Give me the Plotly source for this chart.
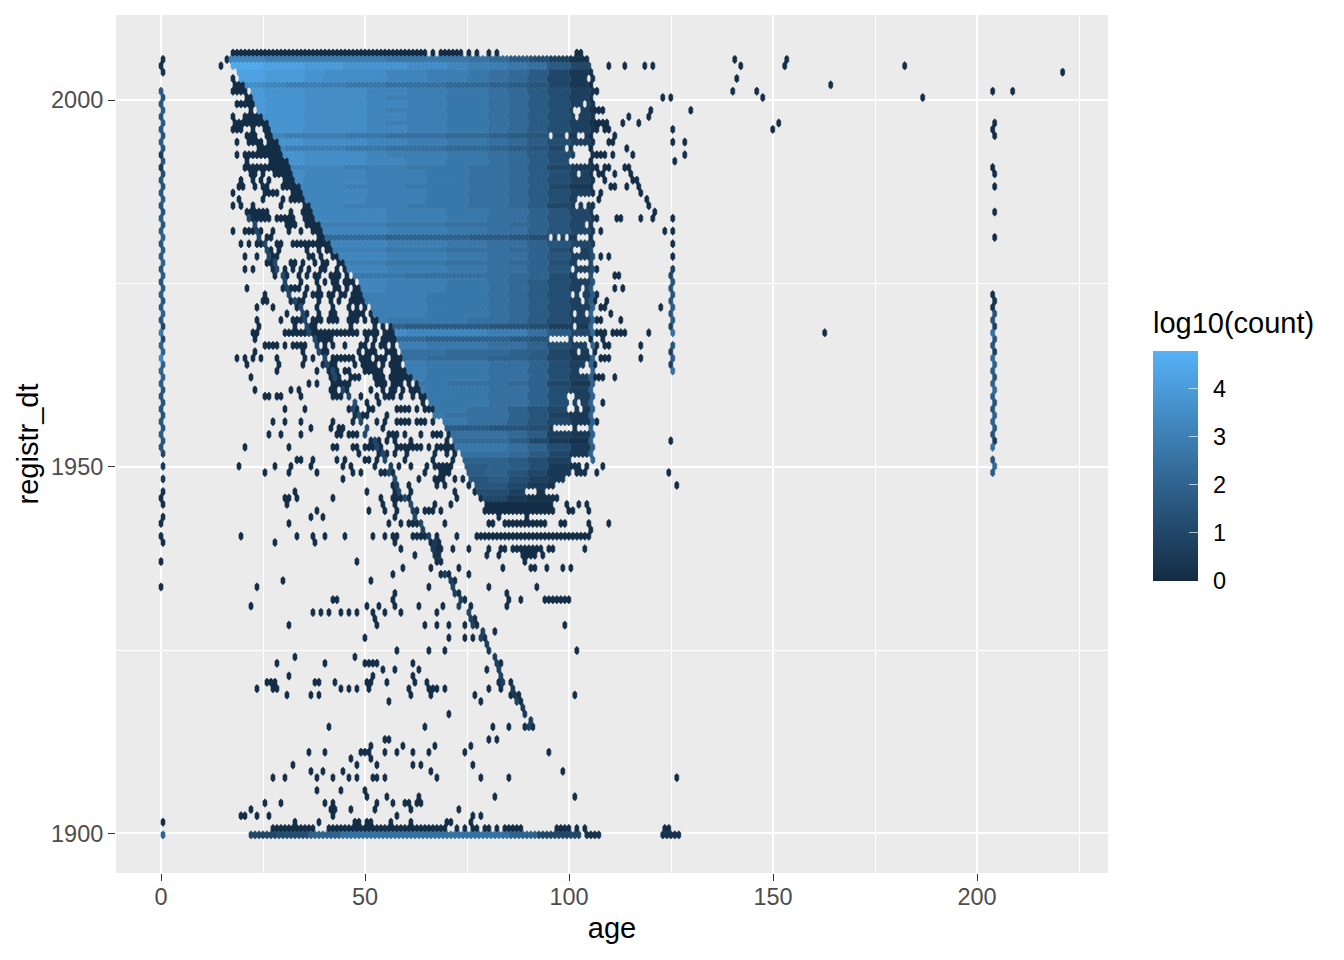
import plotly.graph_objects as go

# hex grid of the binning
age_step = 0.98
year_base = 1899.8
year_step = 0.8667
low_color = (0x13, 0x2B, 0x43)
high_color = (0x56, 0xB1, 0xF7)
level_max = 4.79
legend_ticks = [0, 1, 2, 3, 4]
x_major = [0, 50, 100, 150, 200]
x_minor = [25, 75, 125, 175, 225]
y_major = [1900, 1950, 2000]
y_minor = [1925, 1975]

# dense block: log10(count) per row, 5-year age bands from 15 (char value x 0.25)
band_start = 15
band_width = 5
dense_top_row = 122
dense_levels = [
"ddccccccbbbba975310","iihhggfffeedccba742","hhggfeeeddccba97421","hhggfeeeddccba97421",
"eedcccbbaaa99876420","ggffeeeddccbba97531","ggffeeedcccbba97531","ggffeeeddccbba97531",
"ggffeeedcccbba97531","ggffeeeddccbba97531","ggffeeedcccbba97531","ggffeeeddccbba97531",
"eedcccbbaaa99876420","ggffeeeddccbba97531","eedcccbbaaa99876420","ggffeeedcccbba97531",
"ggffeeeddccbba97531","eeddddcccbbbaa97421","eeeedddcccbbaa97531","eeeedddcccbbaa97531",
"eeddddcccbbbaa97421","eeeedddcccbbaa97531","eeeedddcccbbaa97531","eeddddcccbbbaa97421",
"ddddddddcccbbaa8642","ddddddddcccbbaa8642","ccccccccbbbaaa98642","ddddddddcccbbaa8642",
"aaaaa99988887765321","ddddddddcccbbaa8642","ccccccccbbbaaa98534","ddddddddcccbbaa8635",
"ccccccccbbbaaa98534","ddddddddcccbbaa8635","bbbbbbbbbaaaaa98535","ddddddddcccbba97536",
"ddddddddcccbba97536","ccccccccccbbba97537","ccccccccccbbba97537","ccccccccccbbba97538",
"ccccccccccbbba97538","ccccccccbbbbaa97538","8888888887777665328","eeeeeeeeeddddcca749",
"9999999999888876430","ccccccccccbbbaa8538","aaaaaaaaaaa99987428","aaaaaaaaaa999887428",
"ccccccccccbbbaa8538","ccccccccccbbbaa8538","ccccccccccbbbaa8538","bbbbbbbbbbbaaa98428",
"ccccccccccbbbaa8538","ccccccccccbbbaa8538","ccccccccccbbbaa8538","ccccccccbbbbaa86428",
"bbbbbbbbbbbaaa86328","ccccccccbbbbaa86428","7777777777777665218","aaaaaaaaaaaaaa97328",
"9999999999999974218","bbbbbbbbbbbbbba8528","aaaaaaaaaaaaaa97428","8888888888888875318",
"7777777777777875218","7777777777777864218","6666666666666753217","6666666666666642117",
"5555555555555531116","4444444444444421114",
]
dense_left = [17,18.1,19,19.4,20.8,22.2,23,23.9,24.3,25.5,27,27.5,28.4,29.6,30,30.8,31.6,32,33,33.7,
35,35.5,36,37,38,38.7,39.4,40,41,42,42.6,44,45.5,46.5,47.5,48.8,49.5,50.3,50.8,51.5,52,54,57,57.5,
58,59,59.5,60,60.5,61,62.6,63.5,64.3,65.2,66,67.2,67.6,69.2,70,71.3,72,73,73.7,74,75,75.8,76,77.8,78.2,79.4]
dense_right = [104.5,105,105.5,105.5,105.5,105.5,105.5,105.5,105.5,105.5,105.5,105.5,105.5,105.5,105.5,105.5,
105.5,105.5,105.5,105.5,105.5,105.5,105.5,105.5,105.5,105.5,105.5,105.5,105.5,105.5,105.5,105.5,105.5,105.5,
105.5,105.5,105.5,105.5,105.5,105.5,105.5,105.5,105.5,105.5,105.5,105.5,105.5,105.5,105.5,105.5,105.5,105.5,
105.5,105.5,105.5,105.5,105.5,105.5,105.5,105.5,105.5,105.5,105.5,105.5,104,104,98,96,94,96.6]

# empty bins inside the dense block, by row
holes = {
119:"104.8",115:"103.5",114:"101.5-102.7",113:"102",110:"96 99.5 102-103.5",108:"99.5 101.5-104.7",
107:"101.5-104.7",106:"100.3 101.5-104.7",104:"102.3",100:"102.5-105",99:"102 103.7",96:"104.4",
94:"95.4 97.4 99.4 102.3-104.8",92:"101.5-102.7",90:"102.3-104.8",89:"101",88:"102.3-104",86:"103.4",
85:"101 103",84:"103.5",82:"101.5 104.4",80:"101.5",78:"96-99 101-104",77:"104.4",76:"102.5 105",
74:"104.4",73:"103-104.4",69:"100-101",68:"100.3 102.7",67:"100-101 102.7",64:"97-100 102.4-104.8",
59:"100.7-104.4",58:"103",57:"101",56:"102-104",55:"99-103.5",54:"90-92",
}

# single bins and short runs outside the dense block, by row (ages)
sparse = {
123:"18-65 66.8 69-73.3 75 77 80 82 102 103",
122:"16.5 140.4 153.4",
121:"14.9 110 114 119 121 142 153 181.8",120:"221.3",119:"18 141",118:"18.5-20.6 164.4",
117:"18-20.2 106.8 140 146 203.8 208.8",116:"21.4-22.6 123.3 125.4 147.3 186.3",115:"19-23",
114:"22.2 106-108.4 120.3 130.3",113:"18 21-24.7 115 120",
112:"18-19.8 20.6-24.3 25-26.7 106-109.3 113.5 117.4 151.5 204.3",
111:"18-19.8 23 25.5-26.7 107 109 110 125 149.8 203.8",110:"20.6-23.4 25.5-28 111.5 204.3",
109:"19 21.8-23.9 24.7 26.7-28.4 110 111 125 128",108:"24.3-25.5 27-30 114.5",
107:"18.5 21-25.5 26.7-30.4 106.8-109 111 116 128",106:"21 27-31.2 125.5",
105:"20.6-21.4 23-31.6 107 109 110 114 115 203.8",104:"21.8-23 25 28-32 107-108 111.5 115.4 204.3",
103:"19.4 22.2 24.7 26.7 30.4-33 108.8 116 117",102:"19 20 22.6 24.7 25.5 30-34.5 110.4 111.4 114.5 117.4 204.3",
101:"18 25.5-28 32-35 108 117.9",100:"19.4 25 29.6 32-35 107.4 119.4",99:"18 19.4 23 29 34.9-36.5 120",
98:"21.4-25.5 32 34.9-37.8 121.5 204",97:"21.4-26.7 28.8-32.4 34.9-38.6 107 112 113 118 121 125",
96:"30.4-32.4 35.7-39.8",95:"18 21-24.3 27 31 34 37.7-41 107.9 123 125",94:"25.5 27 39-42 204",
93:"20 22 24-25.5 28-29.2 32-42 125",92:"26.7 29.3 35.7 39 40.6 42",91:"21 24 27-28.3 36 37.7 39 42-44.7 107.9 109.8 125",
90:"25.5-28.3 31.6 32.4 34.5 38 39.8-41 44-45.5",89:"21 23 27.5 30.8 32 34 36.5 39-40 43 45-47 106.8 125",
88:"28 29.6 30.8 33.7 35.3 37.8-39 41.4 43-44 46 48-48.8 111.5 112.4 125",87:"30 30.8 34 38.2 40 42-43 45-47.1 125",
86:"20.6 30-33.7 35.7 36 39 42.2-44 46 48-49.6 111.5 113.5 125",85:"25 31.6 35.3 37.3-39 41.4 42.6 44-45 47-50.4 106.8 125",
84:"25 26 31.6-34.9 39 41.8 43.9 47-50.4 106.4 108.8 125",83:"24 27 33.3 34.5 38.6 42.2 46.3 48 50 108-109 122.7 125",
82:"30.4 34.5-35.7 38.6 41.4-43 46.7 48-49 51-52 110.5 125",81:"24 29 32.8-35.7 37.7-39 41-43 46.3-48 50 52-55.3 106.8-108 113 125",
80:"24 32.8 36.5-38.2 46.3 52 54.5 56.1 125",79:"23 24 30 31.2 32.8-36.5 37.3-48.4 50-53 55-57.8 106-109 111-114 120 119.8 125 163",
78:"23.4 37.3-41.4 50.4 52.9 54.5-57 108.4",77:"25-28 30 32-35.3 38.2 40.6 42.6 45 48.8-50 52 54-55.3 57 107 109 110 117.8 125",
76:"22.6 34.9 39.8 40.6 48.4 50-52 55-57.8 106.4 125",75:"19 20.2 23 24.7 28 35.3 37 39.8 42.2-47 49-51 53-55.3 57-60.2 108-110 117.8 125",
74:"20.8 29.2 34.5 39.8-43 47.5 49.6-52 54 56-58.6 60-63 106.4 125",73:"28.8 38 41-43 44.7-46.3 49.6-53.7 57-62.6 125",
72:"22.4 41.4-43.9 46.7-48.8 52-54.5 56-62 106-108.4 111.5",71:"36 38 42-46 53-54.5 57-59 61 63-65",
70:"22.6 31.7 33.7 41.5-43 45.5 51 54.5 56-57 59 61-65",69:"25 26 28 29.2 34 41.9-43.9 49 52.9 54.5 56-57 59 61.9 63.5-65",
68:"47.6 50.4 53.3 64.3 108.4",67:"30 35 46-47.6 50.9-52 57.8-61 63 64.7-67.2",66:"47.2-50.4 55.3",
65:"27 30 34 41.9 47.2 49.2 53 55 57.8-61 62.7 64-65 67 106.8",64:"36.6 41.5 43.5 44.3 50.4 54.5",
63:"26 29 34 43.5 44.3 46-48 50.4 55.8-58.2 59.8 63.5 66.4-68.4 70.5",62:"51.7 53 55.3 57.4 61.5 70.5 125.4",
61:"21 31 41.9 43 47.2 48 50-52 53.7 57.8-63.5 66 68-71.3 73",60:"48.4 53.7-55.3 57.4 59.8 67.2 70.5 72",
59:"33.3 34.3 37 43 45 50 51 53.3 54.5 60 67 72",58:"19.4 27.5 31.7 36.5 44.4 46.6 52.5 56.2 58.6 61 64.7 67.6-70.9 108.4",
57:"25 31 38 47 49 54-55.3 57 64.7 68.4-70.9 106.4 124.9",56:"44.5 57.4 63 67.6-69 72.5 74.3",
55:"57 58 61 68 70 75.8 126.5",54:"32.5 50.5 57.4 61 72.5 76.6",
53:"30 31 33 42 54 57-60 61 72.5 78",52:"30.4 54.5 57.4 61.5 67.4 71.5 80-96 99.5 102.5 104.8",
51:"38 51 55 57.4 62.3 64.7-67 68.8 79 80 81.5-96 99.5 101 105",50:"36.5 39.4 57.4 62.3 83 89.5",
49:"31 56 59 61-63 64 70 80 81 84-94 98 99 105 110",48:"64.3 105",
47:"19.4 33 37 40 45 52 55 57 58 62-65 66 68 73 77-105",46:"28.4 37.4 57.4 66-68.4",
45:"59 66.4-68.8 72 75 80 83 84 86-93 95 96 104",44:"62.5 66.8-68.4 79.4 82.7 88.9-91.3 93.3",
43:"48 67.6 68.4 88.9",42:"59.6 66.5 73.5 83.4 90.5-92 94.4 98.5 100.4",41:"57 68.8 70 71 75",
40:"29.4 51.5 71.7",39:"24 66 71.7 80 92",38:"57.4 72.5 73.3 84.4",
37:"42 43 57 73.3 74 85 88 94-100",36:"22.5 50.5 53.5 57.5 63.5 69.4 73.5 75.5 84.4",
35:"37 39 41 44 46 48 52 55 59 68 75",34:"52.4 75.5 76.5",33:"31 53 65 68 71 74 76 77 99",32:"78.4 81.4",
31:"50 71 74 76 78 79",30:"79.4",29:"58 66 70 80 102",28:"32.5 47.5 81.4",27:"28 40 50-53 62 82 83",
26:"54.4 57.4 63.5 79.4 82.5 83",25:"31 52 62 83",24:"25.5 26.5 27.5 37.5 38.5 42.4 50.5 51.5 55.4 62.5 65.4 82.7 84 85.5",
23:"24 27 28 44 46 48 51 61 66 67 68 70 80 83 86",22:"30.5 36.5 38.5 61.5 66.5 77.4 85.5 86.3 87.4 101.5",
21:"56 78 87 88",20:"88.5",19:"71 89",18:"90.4",17:"41 65 81 85 89.6 91.3",
15:"55 56 80 82",14:"51.5 59.5 67.4 75.5",13:"36 40 49 50 51 55 58 62 66 74 95",12:"46.5 51.5",
11:"32 48 53 62 64 76",10:"36.5 39.5 44.4 66.4 98.5",9:"27 30 38 42 46 48 52 53 55 68 78 85 126",
7:"38 44 49.5",6:"50.5 55.4 63.5 81.4 101.5",5:"25 29 40 42 53 57 60 61 63 64",
4:"21.6 41.4 42.4 46.5 52.4 61.4 73.4",3:"20 21 24 26 42 58 76 78",
2:"32.4 39 47.5 48.5 50.4 51.4 56 61.4 70.4 71.5 75.5 0",
1:"27-37 41-69 70 73 74 76 77 79 80 82 84-88 97-100 102 104 123 124",
}
sparse_level = 0.1

# the thin diagonal band
diag_rows = [17,18,19,20,21,22,23,24,25,26,27,28,29,30,31,32,33,34,35,36,37,38,39,40,41,44,44,45,46,47,48,49,50,51,52,53,54,55,56,57,58,59,60,61,62,63,64,65,66,67,68,69,70,72,73,74,75,76,77,78,79,80,81,82,83,84,85,86,87,88,89,90,91,92,93,94,95,96,97]
diag_ages = [90.5,90.4,89,88.5,87,86.3,86,84,83,83,82.5,81.4,80,79.4,78.5,78.4,76.5,76,75,73.5,73.5,72.5,71.7,71,70,67,68,67,67,66,64.3,63.5,62.3,62,61,60,58,58,57.4,56,56,54.5,54,53,52,50.4,50.4,49,48.5,47,47.5,46,45,43,41.8,41,40.6,39,38,37.5,36.5,36,35.5,35,34,33,31.6,31,30,29.6,28.5,27.5,26.7,26,25.5,24.5,23.9,23,22]
diag_levels = [0.75,0.75,0.5,0.5,0.75,0.5,0.5,0.75,0.75,0.75,0.75,0.75,0.5,0.75,0.75,0.75,0.75,0.75,1,0.75,0.75,0.75,0.75,0.5,0.75,0.25,0.25,0.5,0.5,0.75,0.75,1,1,0.75,1,1,1,0.75,1,1,0.75,1,1,1,1,1,1.25,1,1.25,1,1.25,1,1,1,1,1,1,1,0.75,1,1,1,1,1,1,1,1,1,1,1,1,1,1,1,1,1,1,1,1]

# age column 0
col0_rows = [122,121,120,117,116,115,114,113,112,111,110,109,108,107,106,105,104,103,102,101,100,99,98,97,96,95,94,93,92,91,90,89,88,87,86,85,84,83,82,81,80,79,78,77,76,75,74,73,72,71,70,69,68,67,66,65,64,63,62,61,60,58,56,54,53,52,50,49,47,46,43,39,0]
col0_levels = [0.25,0.25,0.25,1.75,1.5,1.5,1.75,1.5,1.75,1.5,1.5,1.75,1.5,0.5,1.5,0.5,1.25,1.5,1.5,1.5,1.75,1.5,1.5,1.75,1.5,1.75,2,1.5,1.75,1.75,2,1.5,1.75,1.5,1.75,1.75,1.5,1.75,2,1.5,1,2.75,1,2,2,3.25,2,2,2,1.75,1.5,1.5,1.5,1.5,1.5,1.5,1.5,1.75,1.5,1.5,1,0.5,0.5,0.25,0.1,0.1,0.25,0.1,0.25,0.1,0.1,0.1,2]
# age column about 125
col125_rows = [89,88,87,86,85,84,83,82,81,80,79,77,76,75,74,73]
col125_levels = [0.75,1,1.5,1.5,1.5,1.5,1.75,1.5,1.75,0.75,2.5,1.5,0.75,1.75,0.75,2.5]
col125_age = 125
# age column about 204
col204_rows = [85,84,83,82,81,80,79,78,77,76,75,74,73,72,71,70,69,68,67,66,65,64,63,62,61,59,58,57]
col204_levels = [0.25,0.25,0.25,1.5,1.5,0.75,2.5,1.5,1.5,0.75,2.25,2,1.75,1.5,2,2.25,1.75,1.5,1.5,2,2,1.75,1.5,0.5,2.5,1.5,2.25,1.75]
col204_age = 204
# bottom row runs
bottom_row = 0
bottom_from = [22,29,37,45,86,93,104,123]
bottom_to = [28,36,44,85,92,102,107,127]
bottom_levels = [1,1.25,2,2.5,2,1,0.25,0.25]


def col_of(r, age):
    return round(age / age_step - (0.5 if r % 2 == 0 else 0))


def parse(spec, r):
    out = []
    for tok in spec.split():
        if "-" in tok:
            a, b = tok.split("-")
            out.extend(range(col_of(r, float(a)), col_of(r, float(b)) + 1))
        else:
            out.append(col_of(r, float(tok)))
    return out


cells = {}
for i, s in enumerate(dense_levels):
    r = dense_top_row - i
    for k in range(col_of(r, dense_left[i]), col_of(r, dense_right[i]) + 1):
        a = (k + (0.5 if r % 2 == 0 else 0)) * age_step
        b = min(max(int((a - band_start) // band_width), 0), len(s) - 1)
        cells[(r, k)] = int(s[b], 36) * 0.25
    for k in parse(holes.get(r, ""), r):
        cells.pop((r, k), None)
for r, spec in sparse.items():
    for k in parse(spec, r):
        cells.setdefault((r, k), sparse_level)
for r, a, l in zip(diag_rows, diag_ages, diag_levels):
    cells[(r, col_of(r, a))] = l
for r, l in zip(col0_rows, col0_levels):
    cells[(r, col_of(r, 0))] = l
for r, l in zip(col125_rows, col125_levels):
    cells[(r, col_of(r, col125_age))] = l
for r, l in zip(col204_rows, col204_levels):
    cells[(r, col_of(r, col204_age))] = l
for a, b, l in zip(bottom_from, bottom_to, bottom_levels):
    for k in range(col_of(bottom_row, a), col_of(bottom_row, b) + 1):
        cells[(bottom_row, k)] = l


def color_for(v):
    t = min(v / level_max, 1)
    c = [round(low_color[i] + (high_color[i] - low_color[i]) * t) for i in range(3)]
    return "rgb(%d,%d,%d)" % tuple(c)


half_w = age_step / 2
rad = year_step / 1.5
groups = {}
for (r, k), v in cells.items():
    cx = (k + (0.5 if r % 2 == 0 else 0)) * age_step
    cy = year_base + r * year_step
    xs, ys = groups.setdefault(v, ([], []))
    xs += [cx, cx + half_w, cx + half_w, cx, cx - half_w, cx - half_w, cx, None]
    ys += [cy + rad, cy + rad / 2, cy - rad / 2, cy - rad, cy - rad / 2, cy + rad / 2, cy + rad, None]

fig = go.Figure()
for v in sorted(groups):
    xs, ys = groups[v]
    col = color_for(v)
    fig.add_trace(go.Scatter(x=xs, y=ys, mode="lines", fill="toself", fillcolor=col,
                             line=dict(color=col, width=0.6, simplify=False),
                             hoverinfo="skip", showlegend=False))

# colour bar
panel_w = 992
panel_h = 858
bar_left = (1153 - 116) / panel_w
bar_top = (873 - 351) / panel_h
bar_len = 230
fig.add_trace(go.Scatter(
    x=[0, 0], y=[1900, 1900], mode="markers", hoverinfo="skip", showlegend=False,
    marker=dict(size=1, opacity=0, color=[0, level_max], cmin=0, cmax=level_max,
                colorscale=[[0, "#132B43"], [1, "#56B1F7"]],
                colorbar=dict(thickness=45, thicknessmode="pixels", len=bar_len, lenmode="pixels",
                              x=bar_left, xanchor="left", xpad=0, y=bar_top, yanchor="top", ypad=0,
                              outlinewidth=0, tickvals=legend_ticks, showticklabels=False,
                              ticks="inside", ticklen=9, tickwidth=1, tickcolor="rgba(255,255,255,0.65)"))))

shapes = []
notes = [dict(text="log10(count)", xref="paper", yref="paper", x=bar_left, y=(873 - 323) / panel_h,
              xanchor="left", yanchor="middle", xshift=-2, showarrow=False, font=dict(size=29, color="black"))]
for t in legend_ticks:
    yp = bar_top - (bar_len / panel_h) * (1 - t / level_max)
    shapes.append(dict(type="line", xref="paper", yref="paper",
                       x0=bar_left, x1=bar_left + 9 / panel_w, y0=yp, y1=yp,
                       line=dict(color="rgba(255,255,255,0.65)", width=1)))
    notes.append(dict(text=str(t), xref="paper", yref="paper", x=(1211 - 116) / panel_w, y=yp,
                      xanchor="left", yanchor="middle", showarrow=False,
                      font=dict(size=23.5, color="black")))

axis_common = dict(showline=False, zeroline=False, gridcolor="white", gridwidth=2.2,
                   ticks="outside", ticklen=7, tickwidth=1.4, tickcolor="#333333",
                   tickfont=dict(size=23.5, color="#4D4D4D", family="Liberation Sans"))
fig.update_layout(
    width=1336, height=952, autosize=False,
    margin=dict(l=108, r=236, t=7, b=87),
    paper_bgcolor="white", plot_bgcolor="#EBEBEB",
    font=dict(family="Liberation Sans"), hovermode=False, showlegend=False, shapes=shapes,
    xaxis=dict(range=[-11.03, 232.1], tickmode="array", tickvals=x_major, ticklabelstandoff=-4,
               minor=dict(tickmode="array", tickvals=x_minor, showgrid=True, gridcolor="white", gridwidth=1.1, ticks=""),
               title=dict(text="age", font=dict(size=29, color="black"), standoff=8), **axis_common),
    yaxis=dict(range=[1894.6, 2011.6], tickmode="array", tickvals=y_major,
               minor=dict(tickmode="array", tickvals=y_minor, showgrid=True, gridcolor="white", gridwidth=1.1, ticks=""),
               title=dict(text="registr_dt", font=dict(size=29, color="black"), standoff=3), **axis_common),
    annotations=notes,
)
fig.write_html("out.html")
